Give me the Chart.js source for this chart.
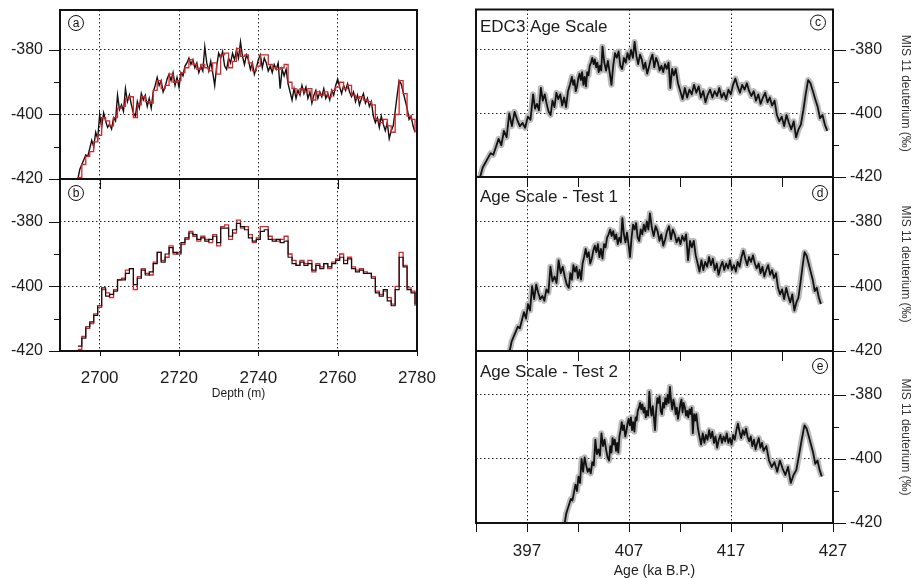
<!DOCTYPE html>
<html>
<head>
<meta charset="utf-8">
<script src="https://cdn.jsdelivr.net/npm/chart.js@4.4.1/dist/chart.umd.min.js"></script>
<style>
  html, body { margin: 0; padding: 0; background: #fff; overflow: hidden; }
  #wrap { position: relative; width: 914px; height: 578px; overflow: hidden; }
  canvas { position: absolute; }
</style>
</head>
<body>
<div id="wrap">
  <canvas id="panelA"></canvas>
  <canvas id="panelB"></canvas>
  <canvas id="panelC"></canvas>
  <canvas id="panelD"></canvas>
  <canvas id="panelE"></canvas>
</div>
<script>
// deuterium record vs depth (black, high resolution)
const blackDepth = [
  2694.5, 2695, 2695.5, 2696, 2696.5, 2697, 2697.5, 2698, 2698.5, 2699,
  2699.5, 2700, 2700.5, 2701, 2701.5, 2702, 2702.5, 2703, 2703.5, 2704,
  2704.5, 2705, 2705.5, 2706, 2706.5, 2707, 2707.5, 2708, 2708.5, 2709,
  2709.5, 2710, 2710.5, 2711, 2711.5, 2712, 2712.5, 2713, 2713.5, 2714,
  2714.5, 2715, 2715.5, 2716, 2716.5, 2717, 2717.5, 2718, 2718.5, 2719,
  2719.5, 2720, 2720.5, 2721, 2721.5, 2722, 2722.5, 2723, 2723.5, 2724,
  2724.5, 2725, 2725.5, 2726, 2726.5, 2727, 2727.5, 2728, 2728.5, 2729,
  2729.5, 2730, 2730.5, 2731, 2731.5, 2732, 2732.5, 2733, 2733.5, 2734,
  2734.5, 2735, 2735.5, 2736, 2736.5, 2737, 2737.5, 2738, 2738.5, 2739,
  2739.5, 2740, 2740.5, 2741, 2741.5, 2742, 2742.5, 2743, 2743.5, 2744,
  2744.5, 2745, 2745.5, 2746, 2746.5, 2747, 2747.5, 2748, 2748.5, 2749,
  2749.5, 2750, 2750.5, 2751, 2751.5, 2752, 2752.5, 2753, 2753.5, 2754,
  2754.5, 2755, 2755.5, 2756, 2756.5, 2757, 2757.5, 2758, 2758.5, 2759,
  2759.5, 2760, 2760.5, 2761, 2761.5, 2762, 2762.5, 2763, 2763.5, 2764,
  2764.5, 2765, 2765.5, 2766, 2766.5, 2767, 2767.5, 2768, 2768.5, 2769,
  2769.5, 2770, 2770.5, 2771, 2771.5, 2772, 2772.5, 2773, 2773.5, 2774,
  2774.5, 2775, 2775.5, 2776, 2776.5, 2777, 2777.5, 2778, 2778.5, 2779,
  2779.5
];
const blackD = [
  -420, -417, -415.5, -414, -412.5, -413, -410.5, -408, -410, -405.5,
  -407.5, -400, -404, -399.5, -402, -404, -403, -404.5, -401, -402,
  -394, -398.5, -397, -399, -392, -396, -394, -397, -399.5, -400.5,
  -396, -398, -393.5, -395.5, -394, -397.5, -395, -398, -393, -391,
  -388.5, -391, -389.5, -393, -391.5, -389, -387.5, -389.5, -387, -391,
  -388.5, -391.5, -387, -388, -385, -384, -382.5, -384.5, -383, -385.5,
  -384, -387, -385, -386.5, -379, -384, -386.5, -383.5, -387, -391,
  -385, -381, -382.5, -380.5, -385, -386, -382.5, -384, -381, -383,
  -380, -382.5, -377.5, -382, -384.5, -381.5, -383, -386, -384, -387.5,
  -385.5, -383, -381.5, -385.5, -382.5, -384, -386.5, -385, -387, -384.5,
  -386, -384, -392, -386, -388, -386, -390.5, -393, -395.5, -392,
  -395, -392.5, -394, -391, -393.5, -391.5, -395, -393, -396.5, -394,
  -392.5, -395, -393, -394.5, -392, -395, -393.5, -395.5, -392.5, -394,
  -391, -389, -391.5, -393.5, -391, -392.5, -390.5, -393, -394.5, -393,
  -396, -394, -397, -395, -393.5, -396.5, -395, -397.5, -396, -400.5,
  -402.5, -401, -404, -400.5, -403, -405, -402.5, -407.5, -405, -403.5,
  -399, -394, -389.5, -390.5, -393, -395.5, -398, -401.5, -400.5, -403.5,
  -405.5
];

// 1 m averages (red steps) and black steps of panel b
const stepDepth = [
  2694.5, 2695.5, 2696.5, 2697.5, 2698.5, 2699.5, 2700.5, 2701.5, 2702.5, 2703.5,
  2704.5, 2705.5, 2706.5, 2707.5, 2708.5, 2709.5, 2710.5, 2711.5, 2712.5, 2713.5,
  2714.5, 2715.5, 2716.5, 2717.5, 2718.5, 2719.5, 2720.5, 2721.5, 2722.5, 2723.5,
  2724.5, 2725.5, 2726.5, 2727.5, 2728.5, 2729.5, 2730.5, 2731.5, 2732.5, 2733.5,
  2734.5, 2735.5, 2736.5, 2737.5, 2738.5, 2739.5, 2740.5, 2741.5, 2742.5, 2743.5,
  2744.5, 2745.5, 2746.5, 2747.5, 2748.5, 2749.5, 2750.5, 2751.5, 2752.5, 2753.5,
  2754.5, 2755.5, 2756.5, 2757.5, 2758.5, 2759.5, 2760.5, 2761.5, 2762.5, 2763.5,
  2764.5, 2765.5, 2766.5, 2767.5, 2768.5, 2769.5, 2770.5, 2771.5, 2772.5, 2773.5,
  2774.5, 2775.5, 2776.5, 2777.5, 2778.5, 2779.5
];
const redD = [
  -419.5, -415.5, -413, -411.5, -408.5, -406.5, -401, -402, -403.5, -401,
  -398, -397.5, -395, -394.5, -401, -397, -394.5, -396, -396.5, -392.5,
  -389.5, -392, -391, -387.5, -390, -389.5, -387, -385.5, -383, -384.5,
  -386, -384.5, -385.5, -386.5, -384, -387.5, -381.5, -381, -385.5, -383.5,
  -379.5, -382, -381.5, -384, -386.5, -385, -381.5, -381.5, -384.5, -385.5,
  -386, -385.5, -384.5, -390, -392, -393.5, -392, -393, -392, -395.5,
  -393, -394, -393, -394.5, -392.5, -391.5, -390, -392, -391, -394,
  -395, -394.5, -395.5, -396, -397, -401.5, -402.5, -401.5, -403.5, -405.5,
  -400, -389.5, -393.5, -400.5, -401.5, -405.5
];
const blackStepD = [
  -418.5, -416, -412.5, -411, -409, -406, -400.5, -403, -402.5, -401.5,
  -398, -398, -396, -394.5, -399.5, -397.5, -395, -396.5, -395.5, -393,
  -389.5, -392.5, -390, -388, -389.5, -390, -386.5, -385, -383.5, -384,
  -385.5, -385, -386, -385.5, -384.5, -386.5, -382, -382, -384.5, -382.5,
  -380.5, -381.5, -382.5, -385, -386, -385.5, -383, -382.5, -385.5, -386,
  -385.5, -386.5, -386, -391, -393, -393.5, -392.5, -393.5, -393, -395,
  -393.5, -394.5, -393, -394, -393, -392, -391, -393, -391.5, -394.5,
  -395.5, -395, -396, -396, -397.5, -402, -403, -401, -404.5, -406,
  -401, -391, -394, -401, -402, -406
];

// ages of the same samples on the three age scales
const ageEdc3 = [
  392.40, 392.66, 392.92, 393.18, 393.44, 393.70, 393.96, 394.22, 394.48, 394.74,
  395.00, 395.26, 395.52, 395.78, 396.04, 396.30, 396.56, 396.82, 397.08, 397.34,
  397.60, 397.79, 397.98, 398.17, 398.36, 398.55, 398.74, 398.93, 399.12, 399.31,
  399.50, 399.69, 399.88, 400.07, 400.26, 400.45, 400.64, 400.83, 401.02, 401.21,
  401.40, 401.53, 401.65, 401.78, 401.90, 402.03, 402.15, 402.28, 402.40, 402.53,
  402.65, 402.78, 402.90, 403.03, 403.15, 403.28, 403.40, 403.53, 403.65, 403.78,
  403.90, 404.03, 404.15, 404.28, 404.40, 404.58, 404.75, 404.93, 405.10, 405.28,
  405.45, 405.63, 405.80, 405.98, 406.15, 406.33, 406.50, 406.68, 406.85, 407.03,
  407.20, 407.38, 407.55, 407.73, 407.90, 408.08, 408.25, 408.43, 408.60, 408.78,
  408.95, 409.13, 409.30, 409.48, 409.65, 409.83, 410.00, 410.18, 410.35, 410.53,
  410.70, 410.88, 411.05, 411.23, 411.40, 411.58, 411.80, 412.03, 412.25, 412.48,
  412.70, 412.93, 413.15, 413.38, 413.60, 413.83, 414.05, 414.28, 414.50, 414.73,
  414.95, 415.18, 415.40, 415.63, 415.85, 416.08, 416.30, 416.53, 416.75, 416.98,
  417.20, 417.43, 417.65, 417.88, 418.10, 418.33, 418.55, 418.78, 419.00, 419.23,
  419.45, 419.68, 419.90, 420.13, 420.35, 420.58, 420.80, 421.03, 421.27, 421.50,
  421.74, 421.97, 422.21, 422.44, 422.68, 422.91, 423.15, 423.38, 423.62, 423.85,
  424.09, 424.32, 424.56, 424.79, 425.03, 425.26, 425.50, 425.73, 425.97, 426.20,
  426.44
];
const ageTest1 = [
  395.3, 395.5, 395.7, 395.9, 396.1, 396.3, 396.5, 396.7, 396.9, 397.1,
  397.3, 397.5, 397.7, 397.9, 398.1, 398.3, 398.5, 398.7, 398.9, 399.1,
  399.3, 399.5, 399.7, 399.9, 400.1, 400.3, 400.5, 400.7, 400.9, 401.1,
  401.25, 401.4, 401.55, 401.7, 401.85, 402.0, 402.15, 402.3, 402.45, 402.6,
  402.75, 402.9, 403.05, 403.2, 403.35, 403.5, 403.65, 403.8, 403.95, 404.1,
  404.25, 404.4, 404.55, 404.7, 404.85, 405.0, 405.15, 405.3, 405.45, 405.6,
  405.75, 405.9, 406.05, 406.2, 406.35, 406.5, 406.65, 406.8, 406.95, 407.1,
  407.25, 407.4, 407.55, 407.7, 407.85, 408.0, 408.15, 408.3, 408.45, 408.6,
  408.75, 408.9, 409.05, 409.24, 409.42, 409.61, 409.80, 409.99, 410.17, 410.36,
  410.55, 410.73, 410.92, 411.11, 411.29, 411.48, 411.67, 411.86, 412.04, 412.23,
  412.42, 412.60, 412.79, 412.98, 413.16, 413.35, 413.54, 413.73, 413.91, 414.10,
  414.29, 414.47, 414.66, 414.85, 415.03, 415.22, 415.41, 415.60, 415.78, 415.97,
  416.16, 416.34, 416.53, 416.72, 416.90, 417.09, 417.28, 417.47, 417.65, 417.84,
  418.03, 418.21, 418.40, 418.59, 418.77, 418.96, 419.15, 419.34, 419.52, 419.71,
  419.90, 420.08, 420.27, 420.46, 420.64, 420.83, 421.02, 421.21, 421.41, 421.61,
  421.81, 422.01, 422.21, 422.41, 422.61, 422.81, 423.01, 423.21, 423.41, 423.61,
  423.81, 424.01, 424.21, 424.41, 424.61, 424.81, 425.01, 425.21, 425.41, 425.61,
  425.81
];
const ageTest2 = [
  400.7, 400.85, 401.0, 401.15, 401.3, 401.45, 401.6, 401.75, 401.9, 402.05,
  402.2, 402.35, 402.5, 402.65, 402.8, 402.95, 403.1, 403.25, 403.4, 403.55,
  403.7, 403.85, 404.0, 404.15, 404.3, 404.45, 404.6, 404.75, 404.9, 405.05,
  405.16, 405.28, 405.39, 405.50, 405.61, 405.73, 405.84, 405.95, 406.06, 406.18,
  406.29, 406.40, 406.51, 406.63, 406.74, 406.85, 406.96, 407.08, 407.19, 407.30,
  407.41, 407.53, 407.64, 407.75, 407.86, 407.98, 408.09, 408.20, 408.31, 408.43,
  408.54, 408.65, 408.76, 408.88, 408.99, 409.10, 409.21, 409.33, 409.44, 409.55,
  409.66, 409.78, 409.89, 410.00, 410.11, 410.23, 410.34, 410.45, 410.56, 410.68,
  410.79, 410.90, 411.01, 411.13, 411.24, 411.35, 411.46, 411.58, 411.69, 411.80,
  411.91, 412.03, 412.14, 412.25, 412.36, 412.48, 412.59, 412.70, 412.81, 412.93,
  413.04, 413.15, 413.26, 413.38, 413.49, 413.60, 413.76, 413.91, 414.07, 414.23,
  414.39, 414.54, 414.70, 414.86, 415.01, 415.17, 415.33, 415.48, 415.64, 415.80,
  415.96, 416.11, 416.27, 416.43, 416.58, 416.74, 416.90, 417.05, 417.21, 417.37,
  417.53, 417.68, 417.84, 418.00, 418.15, 418.31, 418.47, 418.62, 418.78, 418.94,
  419.09, 419.25, 419.41, 419.57, 419.72, 419.88, 420.04, 420.19, 420.46, 420.73,
  420.99, 421.26, 421.53, 421.79, 422.06, 422.33, 422.59, 422.86, 423.13, 423.40,
  423.66, 423.93, 424.20, 424.41, 424.63, 424.84, 425.05, 425.26, 425.48, 425.69,
  425.90
];

// axis ticks
const yTickLabels = [-420, -400, -380];
const yGridVals = [-400, -380];
const yMinorVals = [-410, -390];
const depthTicks = [2700, 2720, 2740, 2760, 2780];
const depthGrid = [2700, 2720, 2740, 2760];
const ageTicks = [397, 407, 417, 427];
const ageGrid = [397, 407, 417];
const ageSmallTicks = [392, 397, 402, 407, 412, 417, 422, 427];

const FONT = "'Liberation Sans', Arial, sans-serif";
const INK = "#111111";
const TXT = "#1c1c1c";
const RED = "#d9262c";
const GREY = "#bababa";
const GRID = "#222222";

Chart.defaults.font.family = FONT;

const pts = (xs, ys) => xs.map((x, i) => ({ x, y: ys[i] }));

const decor = {
  id: "decor",
  afterDatasetsDraw(chart, args, o) {
    const { ctx, chartArea: a, scales } = chart;
    const x = scales.x;
    const y = scales.y;
    const seg = (x1, y1, x2, y2) => {
      ctx.beginPath();
      ctx.moveTo(x1, y1);
      ctx.lineTo(x2, y2);
      ctx.stroke();
    };
    ctx.save();
    ctx.strokeStyle = INK;
    ctx.lineWidth = 1;

    const left = o.ySide === "left";
    const edge = left ? a.left : a.right;
    const dir = left ? -1 : 1;
    yTickLabels.forEach((v) => {
      const p = Math.round(y.getPixelForValue(v)) + 0.5;
      seg(edge, p, edge + dir * o.yTick, p);
    });
    yMinorVals.forEach((v) => {
      const p = Math.round(y.getPixelForValue(v)) + 0.5;
      seg(edge, p, edge + dir * 6, p);
    });
    (o.topTicks || []).forEach((v) => {
      const p = Math.round(x.getPixelForValue(v)) + 0.5;
      seg(p, a.top, p, a.top + 10);
    });
    (o.bottomTicks || []).forEach((v) => {
      const p = Math.round(x.getPixelForValue(v)) + 0.5;
      seg(p, a.bottom, p, a.bottom + o.bottomLen);
    });

    ctx.lineWidth = 2;
    ctx.strokeRect(a.left, a.top, a.right - a.left, a.bottom - a.top);

    const cx = o.letterAt[0] < 0 ? a.right + o.letterAt[0] : a.left + o.letterAt[0];
    const cy = a.top + o.letterAt[1];
    ctx.lineWidth = 1;
    ctx.beginPath();
    ctx.arc(cx, cy, 7.5, 0, Math.PI * 2);
    ctx.stroke();
    ctx.fillStyle = INK;
    ctx.font = "12px " + FONT;
    ctx.textAlign = "center";
    ctx.textBaseline = "middle";
    ctx.fillText(o.letter, cx, cy + 0.5);

    if (o.title) {
      ctx.fillStyle = TXT;
      ctx.font = "17px " + FONT;
      ctx.textAlign = "left";
      ctx.textBaseline = "alphabetic";
      ctx.fillText(o.title, a.left + 4, a.top + o.titleDy);
    }
    ctx.restore();
  }
};

function noPad(s) {
  s.paddingTop = 0;
  s.paddingBottom = 0;
  s.paddingLeft = 0;
  s.paddingRight = 0;
}

function panel(id, box, o) {
  const cv = document.getElementById(id);
  cv.width = box.w;
  cv.height = box.h;
  cv.style.left = box.x + "px";
  cv.style.top = box.y + "px";

  return new Chart(cv, {
    type: "line",
    data: { datasets: o.datasets },
    options: {
      responsive: false,
      animation: false,
      devicePixelRatio: 1,
      events: [],
      layout: { padding: o.pad },
      elements: { point: { radius: 0 }, line: { tension: 0 } },
      plugins: {
        legend: { display: false },
        tooltip: { enabled: false },
        decor: o.decor
      },
      scales: {
        x: {
          type: "linear",
          min: o.xMin,
          max: o.xMax,
          afterBuildTicks: (s) => { s.ticks = o.xTicks.map((v) => ({ value: v })); },
          afterFit: (s) => { s.height = o.xH; noPad(s); },
          grid: {
            color: (c) => (c.tick && o.xGrid.includes(c.tick.value) ? GRID : "rgba(0,0,0,0)"),
            lineWidth: 1,
            drawTicks: false
          },
          border: { display: false, dash: [1.5, 2.5] },
          ticks: {
            display: o.showX,
            padding: o.xPad || 0,
            autoSkip: false,
            maxRotation: 0,
            color: TXT,
            font: { size: 17 },
            callback: (v) => String(v)
          },
          title: o.xTitle || { display: false }
        },
        y: {
          type: "linear",
          position: o.decor.ySide,
          min: -420,
          max: o.yMax,
          afterBuildTicks: (s) => { s.ticks = yTickLabels.map((v) => ({ value: v })); },
          afterFit: (s) => { s.width = o.yW; noPad(s); },
          grid: {
            color: (c) => (c.tick && yGridVals.includes(c.tick.value) ? GRID : "rgba(0,0,0,0)"),
            lineWidth: 1,
            drawTicks: false
          },
          border: { display: false, dash: [1.5, 2.5] },
          ticks: {
            padding: 17,
            color: TXT,
            font: { size: 16 },
            callback: (v) => String(v)
          },
          title: o.yTitle || { display: false }
        }
      }
    },
    plugins: [decor]
  });
}

const ageLine = (ages) => [
  { data: pts(ages, blackD), borderColor: INK, borderWidth: 1.8, borderJoinStyle: "round" },
  { data: pts(ages, blackD), borderColor: GREY, borderWidth: 6, borderJoinStyle: "round" }
];

const yTitleRight = {
  display: true,
  text: "MIS 11 deuterium (\u2030)",
  color: "#333",
  font: { size: 12 },
  padding: { top: 1, bottom: 0 }
};

// (a) depth, black record with red 1 m steps
panel("panelA", { x: 0, y: 0, w: 440, h: 195 }, {
  pad: { top: 10, right: 23, left: 0, bottom: 0 },
  xMin: 2690, xMax: 2780, xTicks: depthTicks, xGrid: depthGrid, xH: 16, showX: false,
  yMax: -367.6, yW: 60,
  datasets: [
    { data: pts(stepDepth, redD), borderColor: RED, borderWidth: 1.3, stepped: true },
    { data: pts(blackDepth, blackD), borderColor: INK, borderWidth: 1.4 }
  ],
  decor: { ySide: "left", yTick: 11, letter: "a", letterAt: [16, 13] }
});

// (b) depth, both as steps
panel("panelB", { x: 0, y: 170, w: 440, h: 240 }, {
  pad: { top: 9, right: 23, left: 0, bottom: 0 },
  xMin: 2690, xMax: 2780, xTicks: depthTicks, xGrid: depthGrid, xH: 59, showX: true, xPad: 17,
  xTitle: { display: true, text: "Depth (m)", color: TXT, font: { size: 12 }, padding: { top: 0, bottom: 9 } },
  yMax: -366.8, yW: 60,
  datasets: [
    { data: pts(stepDepth, blackStepD), borderColor: INK, borderWidth: 1.2, stepped: true },
    { data: pts(stepDepth, redD), borderColor: RED, borderWidth: 1.3, stepped: true }
  ],
  decor: { ySide: "left", yTick: 11, letter: "b", letterAt: [16, 14], topTicks: depthTicks, bottomTicks: depthTicks, bottomLen: 5 }
});

// (c) EDC3 age scale
panel("panelC", { x: 440, y: 0, w: 474, h: 195 }, {
  pad: { top: 9.5, left: 36, right: 0, bottom: 0 },
  xMin: 392, xMax: 427, xTicks: ageTicks, xGrid: ageGrid, xH: 18, showX: false,
  yMax: -367.3, yW: 81, yTitle: yTitleRight,
  datasets: ageLine(ageEdc3),
  decor: { ySide: "right", yTick: 13, letter: "c", letterAt: [-15, 13], title: "EDC3 Age Scale", titleDy: 22.5 }
});

// (d) test 1
panel("panelD", { x: 440, y: 170, w: 474, h: 195 }, {
  pad: { top: 7, left: 36, right: 0, bottom: 0 },
  xMin: 392, xMax: 427, xTicks: ageTicks, xGrid: ageGrid, xH: 14, showX: false,
  yMax: -366.3, yW: 81, yTitle: yTitleRight,
  datasets: ageLine(ageTest1),
  decor: { ySide: "right", yTick: 13, letter: "d", letterAt: [-13, 16], title: "Age Scale - Test 1", titleDy: 25, topTicks: ageSmallTicks }
});

// (e) test 2
panel("panelE", { x: 440, y: 345, w: 474, h: 245 }, {
  pad: { top: 6, left: 36, right: 0, bottom: 0 },
  xMin: 392, xMax: 427, xTicks: ageTicks, xGrid: ageGrid, xH: 67, showX: true, xPad: 18,
  xTitle: { display: true, text: "Age (ka B.P.)", color: TXT, font: { size: 14 }, padding: { top: 0, bottom: 10 } },
  yMax: -366.3, yW: 81, yTitle: yTitleRight,
  datasets: ageLine(ageTest2),
  decor: { ySide: "right", yTick: 13, letter: "e", letterAt: [-13, 15], title: "Age Scale - Test 2", titleDy: 26, topTicks: ageSmallTicks, bottomTicks: ageSmallTicks, bottomLen: 9 }
});
</script>
</body>
</html>
